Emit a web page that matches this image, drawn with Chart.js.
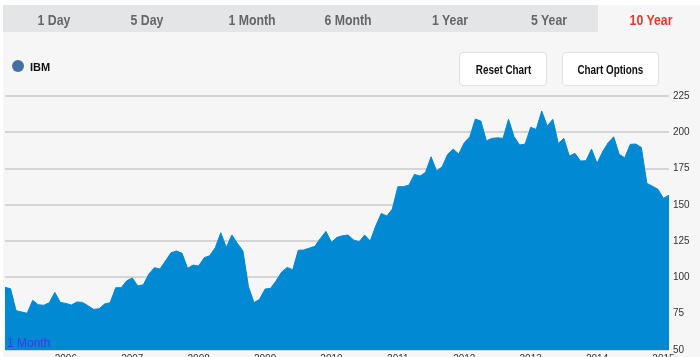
<!DOCTYPE html>
<html><head><meta charset="utf-8">
<script src="https://cdn.jsdelivr.net/npm/chart.js@4.4.1/dist/chart.umd.min.js"></script>
<style>
html,body{margin:0;padding:0;background:#fff;width:700px;height:357px;overflow:hidden;font-family:"Liberation Sans",Arial,sans-serif;}
#panel{position:absolute;left:3px;top:5px;width:697px;height:360px;background:#f6f6f6;}
#tabs{position:absolute;left:3px;top:5px;width:595px;height:27px;background:#e4e5e7;}
.tab{position:absolute;top:5px;height:27px;line-height:29px;text-align:center;font-family:"Liberation Sans",Arial,sans-serif;font-weight:bold;font-size:15px;color:#666;transform:translateX(-50%) scaleX(0.82);white-space:nowrap;z-index:3;}
.tab.active{color:#e8392b;}
#cwrap{position:absolute;left:0;top:0;width:700px;height:372px;z-index:1;}
.btn{position:absolute;top:52px;height:34px;background:#fff;border:1px solid #e0e0e0;border-radius:4px;box-sizing:border-box;font-weight:bold;font-size:13px;color:#111;text-align:center;line-height:33px;z-index:3;white-space:nowrap;}
.btn span{display:inline-block;transform:scaleX(0.76);}
#legdot{position:absolute;left:12px;top:60px;width:12px;height:12px;border-radius:50%;background:#4470a8;z-index:3;}
#legtxt{position:absolute;left:30px;top:60px;font-weight:bold;font-size:11px;color:#111;z-index:3;line-height:14px;}
#range{position:absolute;left:7px;top:336px;font-size:12px;color:#3b3be6;z-index:3;}
</style></head>
<body>
<div id="panel"></div>
<div id="tabs"></div>
<div class="tab" style="left:54px">1 Day</div>
<div class="tab" style="left:147px">5 Day</div>
<div class="tab" style="left:252px">1 Month</div>
<div class="tab" style="left:348px">6 Month</div>
<div class="tab" style="left:450px">1 Year</div>
<div class="tab" style="left:549px">5 Year</div>
<div class="tab active" style="left:651px">10 Year</div>
<div id="legdot"></div><div id="legtxt">IBM</div>
<div class="btn" style="left:459px;width:88px"><span>Reset Chart</span></div>
<div class="btn" style="left:562px;width:97px"><span>Chart Options</span></div>
<div id="cwrap"><canvas id="c" width="700" height="372"></canvas></div>
<div id="range">1 Month</div>
<script>
// Monthly closing prices, Feb 2005 .. Feb 2015
const startYear = 2005, startMonth = 2;
const prices = [
93.2,92.2,77.1,76.2,75.3,84.2,81.2,80.8,82.6,89.7,
82.8,82.1,81.0,83.1,82.8,80.5,78.0,78.4,81.7,82.6,
92.9,92.9,97.7,99.6,94.1,95.0,102.3,106.7,105.8,111.3,
117.0,118.2,116.6,106.3,108.5,107.9,113.6,115.0,120.5,130.8,
120.7,129.2,123.5,118.2,93.6,82.6,84.9,92.0,92.5,97.7,
103.7,106.9,105.3,118.7,118.9,120.2,121.4,126.9,131.7,124.2,
127.6,128.7,129.2,125.8,124.6,129.2,125.1,135.4,144.1,142.3,
147.1,162.5,162.5,163.6,171.0,169.8,172.4,183.1,173.3,176.2,
184.8,188.4,185.0,192.8,196.9,209.1,207.7,194.1,195.8,196.2,
195.8,208.9,197.0,191.2,191.9,203.4,202.0,214.6,204.3,208.9,
192.3,195.8,183.6,185.5,180.2,180.4,188.4,178.6,186.6,192.8,
196.9,184.8,182.4,191.7,191.9,189.6,164.8,162.9,160.7,154.5,
156.7];
const yTicks = [50,75,100,125,150,175,200,225];
const seriesName = "IBM";

const months = prices.map((_, i) => {
  const m = startMonth - 1 + i;
  const y = startYear + Math.floor(m / 12);
  const mm = (m % 12) + 1;
  return y + "-" + String(mm).padStart(2, "0");
});

new Chart(document.getElementById("c"), {
  type: "line",
  data: {
    labels: months,
    datasets: [{
      label: seriesName,
      data: prices,
      borderColor: "#0289d4",
      backgroundColor: "#0289d4",
      borderWidth: 1,
      pointRadius: 0,
      tension: 0,
      fill: "start"
    }]
  },
  options: {
    responsive: false,
    animation: false,
    layout: { padding: { left: 5, right: 0, top: 96, bottom: 0 } },
    plugins: { legend: { display: false }, tooltip: { enabled: false } },
    scales: {
      x: {
        type: "category",
        offset: false,
        grid: { display: false, drawTicks: false },
        border: { display: false },
        afterFit: s => { s.height = 22; },
        ticks: {
          autoSkip: false, maxRotation: 0, padding: 3,
          color: "#333", font: { size: 10, family: "Liberation Sans" },
          callback: function (v, i) {
            const l = this.getLabelForValue(v);
            return l.endsWith("-01") ? l.slice(0, 4) : null;
          }
        }
      },
      y: {
        position: "right",
        min: yTicks[0], max: yTicks[yTicks.length - 1],
        z: 1,
        afterFit: s => { s.width = 31; },
        afterBuildTicks: s => { s.ticks = yTicks.map(v => ({ value: v })); },
        grid: { color: "rgba(185,185,185,0.55)", lineWidth: 2, drawTicks: false },
        border: { display: false },
        ticks: { padding: 4, color: "#333", font: { size: 10, family: "Liberation Sans" } }
      }
    }
  }
});
</script>
</body></html>
